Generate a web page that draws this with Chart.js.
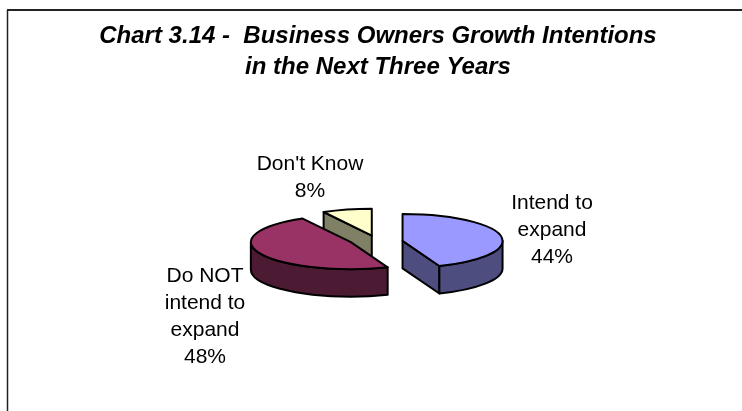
<!DOCTYPE html>
<html>
<head>
<meta charset="utf-8">
<style>
  html, body { margin: 0; padding: 0; background: #fff; }
  #wrap { position: absolute; left: 0; top: 0; width: 742px; height: 411px; }
</style>
<script src="https://cdn.jsdelivr.net/npm/chart.js@4"></script>
</head>
<body>
<div id="wrap"><canvas id="growthPie" width="742" height="411"></canvas></div>
<script>
var categories = ["Intend to expand", "Do NOT intend to expand", "Don't Know"];
var shares = [44, 48, 8];
var titleLines = ["Chart 3.14 -  Business Owners Growth Intentions", "in the Next Three Years"];
var labelLines = [["Intend to", "expand"], ["Do NOT", "intend to", "expand"], ["Don't Know"]];
var topColors = ["#9999ff", "#993366", "#ffffcc"];
var wallColors = ["#4d4d80", "#4d1a33", "#808066"];

var tilt = 0.27;
var depth = 27.5;
var labelFont = '21px "Liberation Sans", Arial, sans-serif';
var labelAnchors = [[552, 209], [205, 281.5], [310, 169.5]];
var labelStep = 27;

// squashes the flat pie angles into a tilted disc with a rim
var pie3d = {
    id: "pie3d",
    beforeDatasetsDraw: function(chart) {
        var ctx = chart.ctx;
        var arcs = chart.getDatasetMeta(0).data;
        // back slice first, the big one last so it covers the others
        [2, 0, 1].forEach(function(i) {
            drawSlice(ctx, arcs[i], i);
        });
        return false;
    },
    afterDraw: function(chart) {
        var ctx = chart.ctx;
        ctx.save();
        ctx.font = labelFont;
        ctx.fillStyle = "#000";
        ctx.textAlign = "center";
        ctx.textBaseline = "alphabetic";
        labelLines.forEach(function(lines, i) {
            var rows = lines.concat([shares[i] + "%"]);
            rows.forEach(function(row, r) {
                ctx.fillText(row, labelAnchors[i][0], labelAnchors[i][1] + r * labelStep);
            });
        });
        ctx.restore();
    }
};

function drawSlice(ctx, arc, i) {
    var a0 = arc.startAngle, a1 = arc.endAngle;
    var mid = (a0 + a1) / 2;
    var d = (arc.options.offset || 0) / 4;
    var cx = arc.x + Math.cos(mid) * d;
    // exploded slices only lift backwards, the front ones stay on the centre line
    var cy = arc.y + Math.min(0, Math.sin(mid)) * d * tilt;
    var rx = arc.outerRadius, ry = rx * tilt;

    function px(a) { return cx + Math.cos(a) * rx; }
    function py(a) { return cy + Math.sin(a) * ry; }
    function cutWall(a) {
        ctx.beginPath();
        ctx.moveTo(cx, cy);
        ctx.lineTo(px(a), py(a));
        ctx.lineTo(px(a), py(a) + depth);
        ctx.lineTo(cx, cy + depth);
        ctx.closePath();
        ctx.fill();
        ctx.stroke();
    }

    ctx.save();
    ctx.lineWidth = 2;
    ctx.lineJoin = "round";
    ctx.strokeStyle = "#000";
    ctx.fillStyle = wallColors[i];

    if (Math.cos(a0) < 0) cutWall(a0);
    if (Math.cos(a1) > 0) cutWall(a1);

    // outer rim, only the front half of the disc shows
    var from = Math.max(a0, 0), to = Math.min(a1, Math.PI);
    if (to > from) {
        ctx.beginPath();
        ctx.ellipse(cx, cy, rx, ry, 0, from, to);
        ctx.lineTo(px(to), py(to) + depth);
        ctx.ellipse(cx, cy + depth, rx, ry, 0, to, from, true);
        ctx.closePath();
        ctx.fill();
        ctx.stroke();
    }

    ctx.fillStyle = topColors[i];
    ctx.beginPath();
    ctx.moveTo(cx, cy);
    ctx.ellipse(cx, cy, rx, ry, 0, a0, a1);
    ctx.closePath();
    ctx.fill();
    ctx.stroke();
    ctx.restore();
}

// page frame, open on the right and bottom
var frame = {
    id: "frame",
    beforeDraw: function(chart) {
        var ctx = chart.ctx;
        ctx.save();
        ctx.strokeStyle = "#222";
        ctx.lineWidth = 1.5;
        ctx.beginPath();
        ctx.moveTo(7.5, 411);
        ctx.lineTo(7.5, 10);
        ctx.stroke();
        ctx.lineWidth = 2;
        ctx.beginPath();
        ctx.moveTo(7, 10);
        ctx.lineTo(742, 10);
        ctx.stroke();
        ctx.restore();
    }
};

var ctx = document.getElementById("growthPie").getContext("2d");
var growthChart = new Chart(ctx, {
    type: "pie",
    data: {
        labels: categories,
        datasets: [{
            data: shares,
            backgroundColor: topColors,
            borderColor: "#000",
            offset: [100, 120, 100]
        }]
    },
    options: {
        responsive: false,
        animation: false,
        radius: 100,
        // keeps the pie centre where the chart area centre lands
        layout: { padding: { left: 14, right: 0, top: 21, bottom: 10 } },
        plugins: {
            legend: { display: false },
            tooltip: { enabled: false },
            title: {
                display: true,
                text: titleLines,
                color: "#000",
                font: { family: '"Liberation Sans", Arial, sans-serif', size: 24, weight: "bold", style: "italic", lineHeight: 1.3 },
                padding: 0
            }
        }
    },
    plugins: [frame, pie3d]
});
</script>
</body>
</html>
